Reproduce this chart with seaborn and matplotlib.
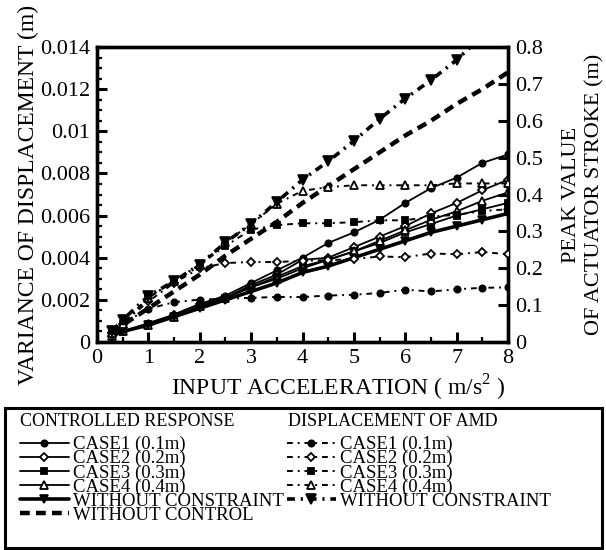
import matplotlib
matplotlib.use("Agg")
import matplotlib.pyplot as plt
import seaborn as sns
from matplotlib.patches import Rectangle
from matplotlib.ticker import MultipleLocator

# ---------------- data ----------------
accel = [0.3, 0.5, 1, 1.5, 2, 2.5, 3, 3.5, 4, 4.5, 5, 5.5, 6, 6.5, 7, 7.5, 8]

# controlled response: variance of displacement (m) - left axis
ctrl_case1 = [0.0003, 0.0005, 0.0009, 0.0013, 0.0018, 0.0022, 0.0028, 0.0034, 0.0040,
              0.0047, 0.0052, 0.0058, 0.0066, 0.0073, 0.0078, 0.0085, 0.0089]
ctrl_case2 = [0.0003, 0.0005, 0.0008, 0.0013, 0.0018, 0.0021, 0.0027, 0.0032, 0.0039,
              0.0040, 0.0045, 0.0050, 0.0055, 0.0061, 0.0066, 0.0072, 0.0077]
ctrl_case3 = [0.0003, 0.0005, 0.0008, 0.0012, 0.0017, 0.0021, 0.0026, 0.0031, 0.0036,
              0.0039, 0.0043, 0.0047, 0.0052, 0.0056, 0.0060, 0.0063, 0.0066]
ctrl_case4 = [0.0003, 0.0005, 0.0008, 0.0012, 0.0017, 0.0021, 0.0026, 0.0030, 0.0035,
              0.0039, 0.0043, 0.0048, 0.0053, 0.0058, 0.0062, 0.0067, 0.0071]
ctrl_wo_constraint = [0.0003, 0.0005, 0.0008, 0.0012, 0.0016, 0.0020, 0.0024, 0.0028, 0.0033,
                      0.0036, 0.0040, 0.0044, 0.0048, 0.0052, 0.0055, 0.0058, 0.0061]
wo_control = [0.0004, 0.0008, 0.0016, 0.0024, 0.0032, 0.0041, 0.0049, 0.0057, 0.0066,
              0.0074, 0.0082, 0.0090, 0.0098, 0.0105, 0.0113, 0.0120, 0.0128]

# displacement of AMD: peak actuator stroke (m) - right axis
amd_case1 = [0.025, 0.05, 0.09, 0.108, 0.115, 0.117, 0.120, 0.122, 0.122,
             0.126, 0.128, 0.133, 0.142, 0.137, 0.143, 0.147, 0.148]
amd_case2 = [0.025, 0.05, 0.11, 0.16, 0.20, 0.214, 0.217, 0.217, 0.220,
             0.222, 0.225, 0.232, 0.230, 0.240, 0.238, 0.244, 0.238]
amd_case3 = [0.025, 0.05, 0.12, 0.165, 0.21, 0.26, 0.305, 0.317, 0.322,
             0.322, 0.325, 0.330, 0.330, 0.340, 0.345, 0.355, 0.360]
amd_case4 = [0.025, 0.05, 0.12, 0.165, 0.21, 0.27, 0.32, 0.375, 0.410,
             0.420, 0.425, 0.425, 0.425, 0.425, 0.430, 0.430, 0.430]
amd_wo_constraint = [0.03, 0.06, 0.125, 0.165, 0.21, 0.27, 0.32, 0.38, 0.44,
                     0.49, 0.545, 0.605, 0.66, 0.71, 0.765, 0.83, 0.89]

left_ticks = [0, 0.002, 0.004, 0.006, 0.008, 0.01, 0.012, 0.014]
left_ticklabels = ["0", "0.002", "0.004", "0.006", "0.008", "0.01", "0.012", "0.014"]
right_ticks = [0, 0.1, 0.2, 0.3, 0.4, 0.5, 0.6, 0.7, 0.8]
right_ticklabels = ["0", "0.1", "0.2", "0.3", "0.4", "0.5", "0.6", "0.7", "0.8"]
x_ticks = [0, 1, 2, 3, 4, 5, 6, 7, 8]

case_labels = ["CASE1 (0.1m)", "CASE2 (0.2m)", "CASE3 (0.3m)", "CASE4 (0.4m)"]

# ---------------- style ----------------
sns.set_theme(style="ticks")
plt.rcParams["font.family"] = ["Liberation Serif", "DejaVu Serif"]
plt.rcParams["mathtext.fontset"] = "custom"
plt.rcParams["mathtext.rm"] = "Liberation Serif"

fig = plt.figure(figsize=(6.06, 5.5), dpi=100)
W, H = 606, 550
ax = fig.add_axes([97 / W, 1 - 342 / H, (508 - 97) / W, (342 - 47) / H])
ax2 = ax.twinx()

k = "black"
ms_specs = [
    dict(marker="o", markersize=4.5, markerfacecolor=k),
    dict(marker="D", markersize=4.5, markerfacecolor="white"),
    dict(marker="s", markersize=4.5, markerfacecolor=k),
    dict(marker="^", markersize=5.5, markerfacecolor="white"),
]

ctrl_series = [ctrl_case1, ctrl_case2, ctrl_case3, ctrl_case4]
amd_series = [amd_case1, amd_case2, amd_case3, amd_case4]

ctrl_handles = []
amd_handles = []
for ys, spec in zip(ctrl_series, ms_specs):
    sns.lineplot(x=accel, y=ys, ax=ax, color=k, lw=1.3, linestyle="-",
                 markeredgecolor=k, markeredgewidth=1.3, legend=False,
                 errorbar=None, sort=False, zorder=4, **spec)
    ctrl_handles.append(ax.lines[-1])

sns.lineplot(x=accel, y=ctrl_wo_constraint, ax=ax, color=k, lw=2.6, linestyle="-",
             marker="v", markersize=6, markerfacecolor=k, markeredgecolor=k,
             markeredgewidth=1.2, legend=False, errorbar=None, sort=False, zorder=4)
ctrl_handles.append(ax.lines[-1])

sns.lineplot(x=accel, y=wo_control, ax=ax, color=k, lw=3.2, linestyle=(0, (2.2, 1.4)),
             legend=False, errorbar=None, sort=False, zorder=3)
ctrl_handles.append(ax.lines[-1])

for ys, spec in zip(amd_series, ms_specs):
    sns.lineplot(x=accel, y=ys, ax=ax2, color=k, lw=1.4, linestyle=(0, (3, 2.5, 1, 2.5)),
                 markeredgecolor=k, markeredgewidth=1.3, legend=False,
                 errorbar=None, sort=False, zorder=4, **spec)
    amd_handles.append(ax2.lines[-1])

sns.lineplot(x=accel, y=amd_wo_constraint, ax=ax2, color=k, lw=2.6,
             linestyle=(0, (2.2, 1.6, 0.6, 1.6)), marker="v", markersize=6.5,
             markerfacecolor=k, markeredgecolor=k, markeredgewidth=1.2,
             legend=False, errorbar=None, sort=False, zorder=4)
amd_handles.append(ax2.lines[-1])

# ---------------- axes ----------------
ax.set_xlim(0, 8)
ax.set_ylim(0, 0.014)
ax2.set_ylim(0, 0.8)

tick_font = 16
ax.set_xticks(x_ticks)
ax.set_xticklabels([str(t) for t in x_ticks], fontsize=tick_font)
ax.xaxis.set_minor_locator(MultipleLocator(0.5))
ax.set_yticks(left_ticks)
ax.set_yticklabels(left_ticklabels, fontsize=tick_font)
ax.yaxis.set_minor_locator(MultipleLocator(0.0005))
ax2.set_yticks(right_ticks)
ax2.set_yticklabels(right_ticklabels, fontsize=tick_font)

for a in (ax, ax2):
    for s in a.spines.values():
        s.set_linewidth(2.4)
        s.set_color(k)
ax.tick_params(axis="both", which="major", direction="in", length=7, width=2.2,
               color=k, pad=5, labelcolor=k, top=False, right=False)
ax.tick_params(axis="both", which="minor", direction="in", length=3.5, width=1.6,
               color=k, top=False, right=False)
ax2.tick_params(axis="y", which="major", direction="in", length=7, width=2.2,
                color=k, pad=5, labelcolor=k)

ax.set_xlabel("INPUT ACCELERATION ( m/s$^2$ )", fontsize=17, labelpad=1, color=k)
ax.xaxis.set_label_coords(0.586, -0.105)
ax.set_ylabel("VARIANCE OF DISPLACEMENT (m)", fontsize=17, labelpad=1, color=k)
ax2.set_ylabel("PEAK VALUE\nOF ACTUATOR STROKE (m)", fontsize=16, labelpad=14,
               color=k, linespacing=1.25)
ax.grid(False)
ax2.grid(False)

# ---------------- legend ----------------
fig.patches.append(Rectangle((5 / W, 1 - 548 / H), 597 / W, 140 / H,
                             transform=fig.transFigure, fill=False,
                             edgecolor=k, lw=2.2, zorder=0))
head_font = 13
leg_font = 13.5
fig.text(20 / W, 1 - 422 / H, "CONTROLLED RESPONSE", fontsize=head_font,
         ha="left", va="center", color=k)
fig.text(288 / W, 1 - 422 / H, "DISPLACEMENT OF AMD", fontsize=head_font,
         ha="left", va="center", color=k)

ctrl_labels = case_labels + ["WITHOUT CONSTRAINT", "WITHOUT CONTROL"]
amd_labels = case_labels + ["WITHOUT CONSTRAINT"]

common = dict(fontsize=leg_font, frameon=False, loc="upper left",
              handlelength=2.6, handletextpad=0.25, labelspacing=-0.17,
              borderpad=0, borderaxespad=0, labelcolor=k)
leg1 = fig.legend(ctrl_handles, ctrl_labels, bbox_to_anchor=(20 / W, 1 - 436 / H), **common)
leg2 = fig.legend(amd_handles, amd_labels, bbox_to_anchor=(287 / W, 1 - 436 / H), **common)

fig.savefig("out.png", dpi=100)
